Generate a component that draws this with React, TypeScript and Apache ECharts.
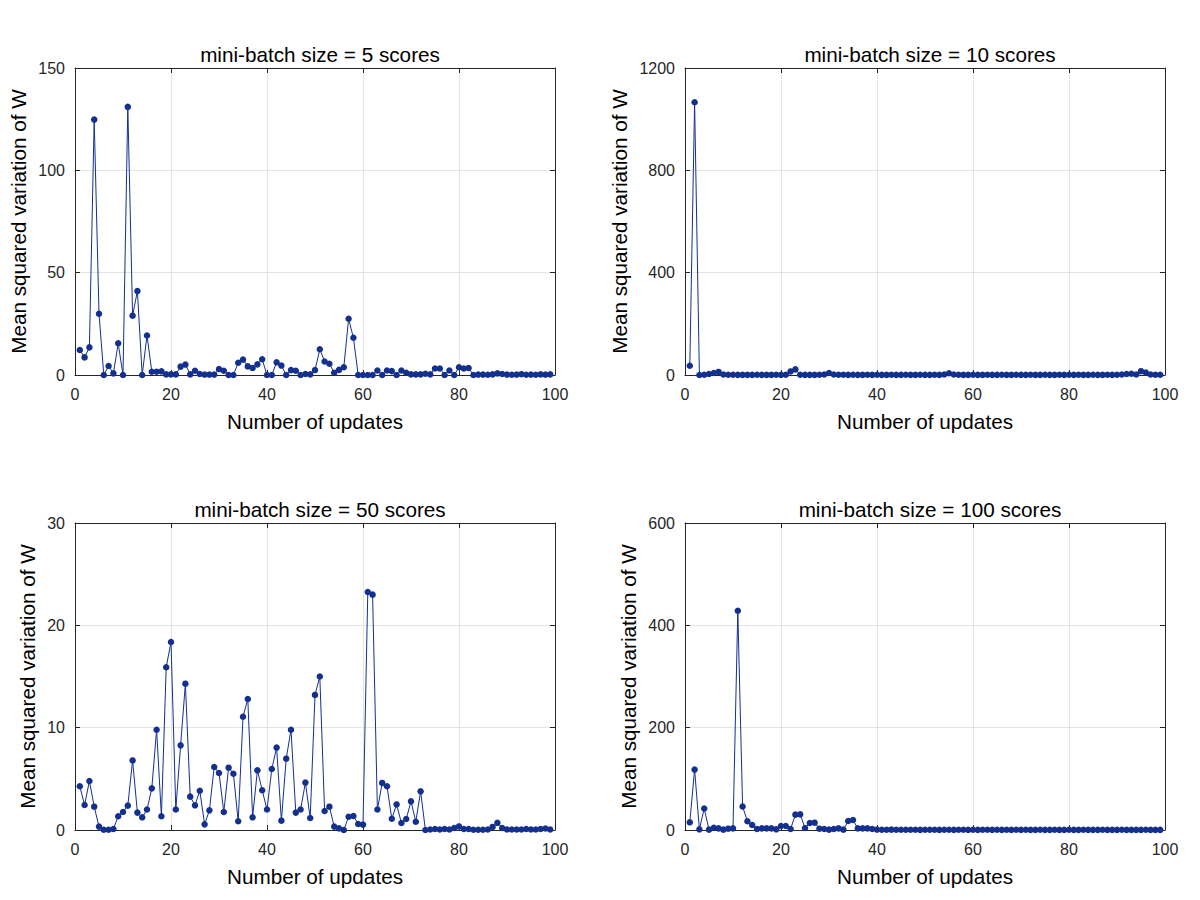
import React, { useEffect, useRef } from "react";
import * as echarts from "echarts";

// Titles and axis labels
const titles = [
  "mini-batch size = 5 scores",
  "mini-batch size = 10 scores",
  "mini-batch size = 50 scores",
  "mini-batch size = 100 scores",
];
const xAxisName = "Number of updates";
const yAxisName = "Mean squared variation of W";

// Y axis ranges (max, interval) for each panel
const yMax = [150, 1200, 30, 600];
const yInterval = [50, 400, 10, 200];

// Series values, update index 1..99
const batch5 = [
  12.2, 8.6, 13.5, 124.8, 29.9, 0, 4.4, 0.8, 15.5, 0,
  131, 29, 41, 0, 19.3, 1.6, 1.6, 1.8, 0.3, 0.3,
  0.3, 4.1, 5.1, 0.3, 2.1, 0.5, 0.2, 0.2, 0.2, 2.9,
  2.1, 0, 0, 6.0, 7.5, 4.2, 3.4, 5.2, 7.7, 0,
  0, 6.2, 4.6, 0, 2.4, 2.1, 0, 0.5, 0.3, 2.4,
  12.6, 6.6, 5.5, 1.1, 2.5, 3.8, 27.5, 18.2, 0, 0,
  0, 0, 2.2, 0, 2.2, 1.9, 0, 2.2, 1.1, 0.3,
  0.3, 0.3, 0.6, 0.3, 3.2, 3.2, 0, 2.2, 0, 3.8,
  3.2, 3.4, 0, 0.2, 0.2, 0.1, 0.3, 0.8, 0.5, 0.2,
  0.1, 0.2, 0.4, 0.1, 0.2, 0.1, 0.3, 0.2, 0.3,
];
const batch10 = [
  36, 1066, 0, 1, 4, 8, 12, 2, 1, 1,
  0.5, 0.5, 0.5, 0.5, 1, 0.5, 0.5, 0.5, 1, 0.5,
  1, 14, 22, 1, 0.5, 0.5, 0.5, 1, 2, 8,
  2, 1, 1, 0.5, 1, 0.5, 0.5, 1, 0.5, 1,
  0.5, 0.5, 1, 0.5, 0.5, 1, 0.5, 0.5, 1, 0.5,
  0.5, 1, 0.5, 2, 7, 2, 1, 0.5, 0.5, 1,
  0.5, 0.5, 1, 0.5, 0.5, 1, 0.5, 0.5, 1, 0.5,
  0.5, 1, 0.5, 0.5, 1, 0.5, 0.5, 1, 0.5, 1,
  0.5, 1, 0.5, 0.5, 1, 0.5, 0.5, 1, 0.5, 1,
  2, 4, 5, 2, 15, 10, 2, 1, 1,
];
const batch50 = [
  4.27, 2.44, 4.79, 2.28, 0.33, 0.03, 0.03, 0.1, 1.34, 1.76,
  2.38, 6.8, 1.7, 1.24, 2.0, 4.07, 9.8, 1.34, 15.9, 18.37,
  2.0, 8.27, 14.3, 3.26, 2.41, 3.84, 0.55, 1.92, 6.16, 5.57,
  1.76, 6.09, 5.5, 0.85, 11.07, 12.8, 1.24, 5.83, 3.88, 2.0,
  5.96, 8.05, 0.91, 6.97, 9.8, 1.7, 2.0, 4.63, 1.17, 13.2,
  15.0, 1.86, 2.28, 0.33, 0.16, 0.0, 1.3, 1.37, 0.59, 0.52,
  23.26, 23.0, 2.0, 4.6, 4.27, 1.1, 2.5, 0.68, 1.07, 2.8,
  0.81, 3.78, 0, 0.05, 0.1, 0.05, 0.1, 0.05, 0.2, 0.35,
  0.1, 0.1, 0.03, 0.03, 0.03, 0.05, 0.3, 0.7, 0.2, 0.05,
  0.05, 0.05, 0.05, 0.1, 0.05, 0.05, 0.1, 0.15, 0.05,
];
const batch100 = [
  15, 118, 1.3, 42, 0.7, 4.5, 3.2, 0.7, 2.6, 3.2,
  428.6, 46, 17, 9.8, 2, 3.2, 3.2, 3.2, 1.3, 7.8,
  7.8, 2, 30, 30.6, 3.9, 13.7, 14.3, 2.6, 2, 0.7,
  2, 3.2, 0.7, 17.6, 19.5, 3.2, 3.2, 3.2, 2, 0.8,
  0.6, 0.5, 0.7, 0.4, 0.5, 0.6, 0.4, 0.5, 0.3, 0.5,
  0.4, 0.6, 0.3, 0.4, 0.5, 0.3, 0.4, 0.5, 0.3, 0.4,
  0.3, 0.5, 0.4, 0.3, 0.4, 0.3, 0.5, 0.3, 0.4, 0.3,
  0.4, 0.3, 0.3, 0.4, 0.3, 0.3, 0.4, 0.3, 0.3, 0.4,
  0.3, 0.3, 0.4, 0.3, 0.3, 0.3, 0.4, 0.3, 0.3, 0.3,
  0.4, 0.3, 0.3, 0.3, 0.3, 0.4, 0.3, 0.3, 0.3,
];
const allSeries = [batch5, batch10, batch50, batch100];

const FONT = "'Liberation Sans', Arial, Helvetica, sans-serif";
const AXIS_COLOR = "#262626";
const GRID_COLOR = "#e4e4e4";
const LINE_COLOR = "#14308f";
const NAME_SIZE = 20.7;
const TICK_SIZE = 16;

// layout of the four panels
const gridPos = [
  { left: 75, top: 68 },
  { left: 685, top: 68 },
  { left: 75, top: 523 },
  { left: 685, top: 523 },
];
const yNameGaps = [46, 55, 37, 46];

export default function App() {
  const ref = useRef<HTMLDivElement>(null);
  useEffect(() => {
    if (!ref.current) return;
    const chart = echarts.init(ref.current, undefined, { renderer: "svg" });

    const grids = gridPos.map((g) => ({
      left: g.left,
      top: g.top,
      width: 480,
      height: 307,
      show: false,
    }));

    const xAxes: any[] = [];
    const yAxes: any[] = [];
    gridPos.forEach((_, i) => {
      const common = {
        type: "value",
        gridIndex: i,
        min: 0,
        max: 100,
        interval: 20,
        axisLine: { show: true, onZero: false, lineStyle: { color: AXIS_COLOR, width: 1 } },
        axisTick: { show: true, inside: true, length: 5, lineStyle: { color: AXIS_COLOR } },
      };
      xAxes.push({
        ...common,
        position: "bottom",
        name: xAxisName,
        nameLocation: "middle",
        nameGap: 36,
        nameTextStyle: { fontSize: NAME_SIZE, color: "#000", fontFamily: FONT },
        axisLabel: { fontSize: TICK_SIZE, color: AXIS_COLOR, margin: 11, fontFamily: FONT },
        splitLine: { show: true, lineStyle: { color: GRID_COLOR, width: 1 } },
      });
      xAxes.push({
        ...common,
        position: "top",
        axisLabel: { show: false },
        splitLine: { show: false },
      });
      const ycommon = {
        type: "value",
        gridIndex: i,
        min: 0,
        max: yMax[i],
        interval: yInterval[i],
        axisLine: { show: true, onZero: false, lineStyle: { color: AXIS_COLOR, width: 1 } },
        axisTick: { show: true, inside: true, length: 5, lineStyle: { color: AXIS_COLOR } },
      };
      yAxes.push({
        ...ycommon,
        position: "left",
        name: yAxisName,
        nameLocation: "middle",
        nameGap: yNameGaps[i],
        nameTextStyle: { fontSize: NAME_SIZE, color: "#000", fontFamily: FONT },
        axisLabel: {
          fontSize: TICK_SIZE,
          color: AXIS_COLOR,
          margin: 10,
          fontFamily: FONT,
          formatter: (v: number) => String(v),
        },
        splitLine: { show: true, lineStyle: { color: GRID_COLOR, width: 1 } },
      });
      yAxes.push({
        ...ycommon,
        position: "right",
        axisLabel: { show: false },
        splitLine: { show: false },
      });
    });

    const series = allSeries.map((vals, i) => ({
      type: "line",
      xAxisIndex: 2 * i,
      yAxisIndex: 2 * i,
      data: vals.map((v, k) => [k + 1, v]),
      symbol: "circle",
      symbolSize: 6.5,
      showSymbol: true,
      lineStyle: { color: LINE_COLOR, width: 1 },
      itemStyle: { color: LINE_COLOR },
      emphasis: { disabled: true },
    }));

    const title = titles.map((t, i) => ({
      text: t,
      left: gridPos[i].left + 240,
      top: gridPos[i].top - 29,
      textAlign: "center",
      textStyle: { fontSize: NAME_SIZE, fontWeight: "normal", color: "#000", fontFamily: FONT },
    }));

    chart.setOption({
      animation: false,
      backgroundColor: "#fff",
      textStyle: { fontFamily: FONT },
      title,
      grid: grids,
      xAxis: xAxes,
      yAxis: yAxes,
      series,
    });
    return () => chart.dispose();
  }, []);
  return (
    <div
      ref={ref}
      style={{ position: "absolute", left: 0, top: 0, width: 1200, height: 900 }}
    />
  );
}
